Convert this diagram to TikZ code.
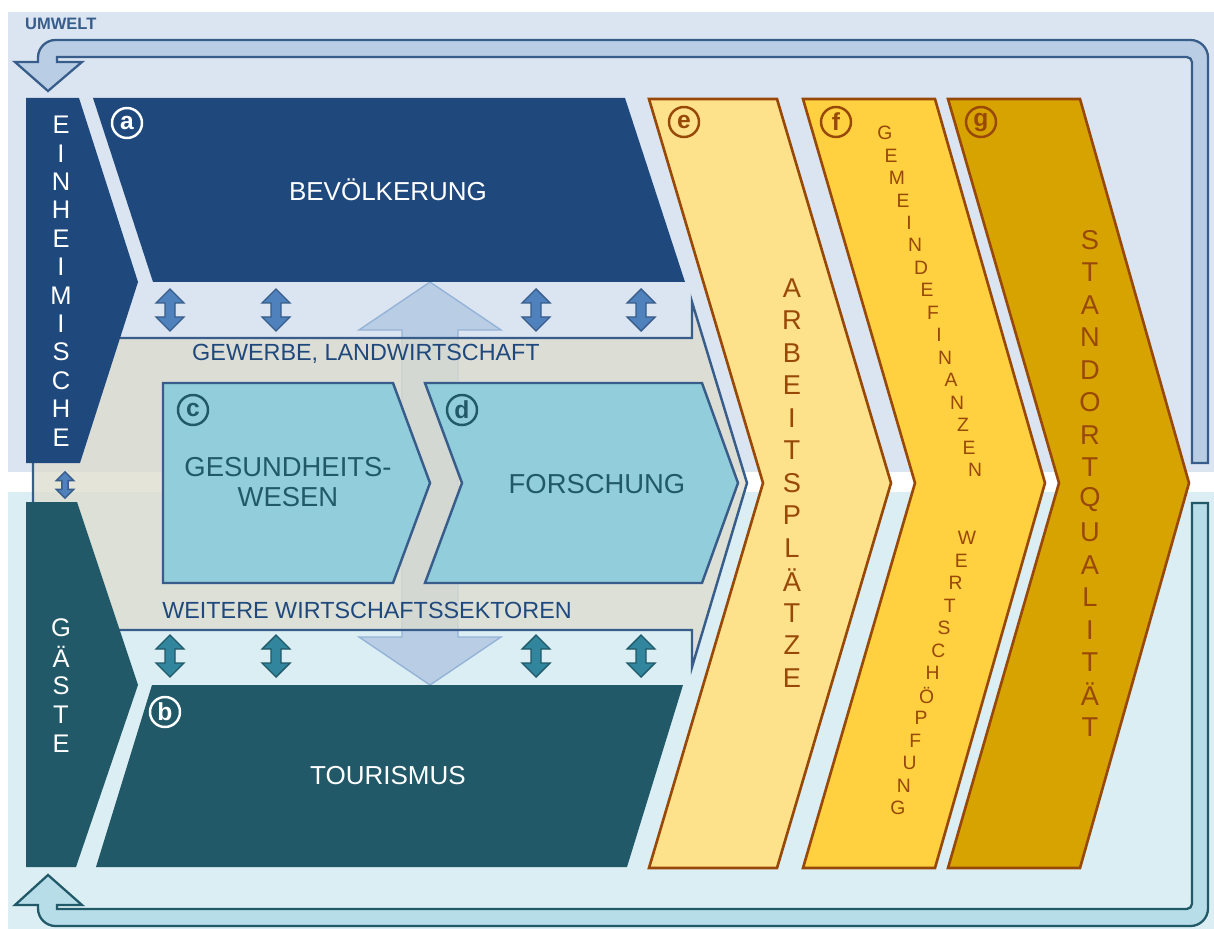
\documentclass[tikz,border=0pt]{standalone}
\usepackage{fontspec}
\setmainfont{Liberation Sans}
\definecolor{umweltbg}{HTML}{DBE5F1}
\definecolor{gastbg}{HTML}{DAEEF3}
\definecolor{navy}{HTML}{1F497D}
\definecolor{petrol}{HTML}{215968}
\definecolor{sand}{RGB}{221,220,205}
\definecolor{boxblue}{HTML}{92CDDC}
\definecolor{lineblue}{HTML}{385D8A}
\definecolor{arrblue}{HTML}{4F81BD}
\definecolor{arrteal}{HTML}{31859C}
\definecolor{paleblue}{HTML}{B9CDE5}
\definecolor{paleline}{HTML}{95B3D7}
\definecolor{palecyan}{HTML}{B7DDE8}
\definecolor{yelA}{HTML}{FEE18B}
\definecolor{yelB}{HTML}{FFD03F}
\definecolor{yelC}{HTML}{D7A300}
\definecolor{brown}{HTML}{984807}
\tikzset{
  outl/.style={draw=lineblue,line width=1.4pt},
  chev/.style={draw=brown,line width=1.5pt},
  updownblue/.style={fill=arrblue,draw=lineblue,line width=0.8pt},
  updownteal/.style={fill=arrteal,draw=petrol,line width=0.8pt},
  badge/.style={circle,draw=#1,text=#1,line width=1.4pt,inner sep=0pt,minimum size=0.6cm,font=\bfseries\fontsize{14}{14}\selectfont},
  bigtext/.style={font=\fontsize{14.8}{17}\selectfont},
  midtext/.style={font=\fontsize{13.3}{15}\selectfont},
  boxtext/.style={font=\fontsize{15.6}{17}\selectfont},
  colchar/.style={inner sep=0pt,text=white,font=\fontsize{14.5}{14.5}\selectfont},
  sidechar/.style={inner sep=0pt,text=brown,font=\fontsize{15.5}{15.5}\selectfont},
  smallchar/.style={inner sep=0pt,text=brown,font=\fontsize{11}{11}\selectfont},
}
\def\updown[#1](#2){\draw[shift={(#2)},#1] (0,-21) -- ++(14,14) -- ++(-9,0) -- ++(0,14) -- ++(9,0) -- ++(-14,14) -- ++(-14,-14) -- ++(9,0) -- ++(0,-14) -- ++(-9,0) -- cycle;}

\begin{document}
\begin{tikzpicture}[x=0.02cm,y=-0.02cm]
			%%%%% START %%%%%
			\def\ytop{98}
			\def\ybot{867}
			\def\ymid{483}
			\def\yhi{310}
			\def\ylo{656}
			
			\useasboundingbox (0,0) rectangle (1214,929);
			\fill[white] (0,0) rectangle (1214,929);
			\fill[umweltbg] (8,12) rectangle (1214,472);
			\fill[gastbg] (8,492) rectangle (1214,929);
			
			\draw[fill=paleblue,draw=lineblue,line width=1.3pt] (15,62) -- (48,91) -- (82,62) -- (57,62) -- (57,57) [rounded corners=3pt] -- (1192,57) [sharp corners] -- (1192,463) -- (1208,463) [rounded corners=10pt] -- (1208,40) -- (38,40) [sharp corners] -- (38,62) -- cycle;
			\draw[fill=palecyan,draw=petrol,line width=1.3pt] (15,905) -- (48,875) -- (82,905) -- (57,905) -- (57,909) [rounded corners=3pt] -- (1192,909) [sharp corners] -- (1192,503) -- (1208,503) [rounded corners=10pt] -- (1208,926) -- (38,926) [sharp corners] -- (38,905) -- cycle;
			\node[anchor=west,text=lineblue,font=\bfseries\fontsize{9.4}{10}\selectfont] (umwelt) at (19,24) {UMWELT};
			
			\draw[fill=paleblue,draw=paleline,line width=0.8pt] (430,282) -- (501,330) -- (458,330) -- (458,637) -- (501,637) -- (430,685) -- (359,637) -- (402,637) -- (402,330) -- (359,330) -- cycle;
			\draw[outl,fill=sand,fill opacity=0.75] (33,338) -- (692,338) -- (692,302) -- (747,\ymid) -- (692,667) -- (692,630) -- (33,630) -- cycle;
			
			\fill[navy] (26,\ytop) -- (79,\ytop) -- (138,282) -- (80,463) -- (26,463) -- cycle;
			\fill[petrol] (26,502) -- (77,502) -- (138,685) -- (76,\ybot) -- (26,\ybot) -- cycle;
			\fill[navy] (93,\ytop) -- (625,\ytop) -- (685,282) -- (153,282) -- cycle;
			\fill[petrol] (152,685) -- (683,685) -- (627,\ybot) -- (96,\ybot) -- cycle;
			
			\draw[outl,fill=boxblue] (163,383) -- (393,383) -- (430,\ymid) -- (393,583) -- (163,583) -- cycle;
			\draw[outl,fill=boxblue] (425,383) -- (702,383) -- (738,\ymid) -- (702,583) -- (425,583) -- (462,\ymid) -- cycle;
			
			\foreach \x in {170,276,536,641} {
				\updown[updownblue](\x,\yhi)
				\updown[updownteal](\x,\ylo)
			}
			\updown[updownblue,scale=0.62](65,485)
			
			\draw[chev,fill=yelA] (649,99) -- (777,99) -- (891,\ymid) -- (777,868) -- (649,868) -- (763,\ymid) -- cycle;
			\draw[chev,fill=yelB] (803,99) -- (935,99) -- (1045,\ymid) -- (935,868) -- (803,868) -- (915,\ymid) -- cycle;
			\draw[chev,fill=yelC] (948,99) -- (1080,99) -- (1189,\ymid) -- (1080,868) -- (948,868) -- (1059,\ymid) -- cycle;
			
			\node[bigtext,text=white] (bev) at (388,190) {BEVÖLKERUNG};
			\node[bigtext,text=white] (tour) at (388,776) {TOURISMUS};
			\node[midtext,text=navy] (gewerbe) at (366,354) {GEWERBE, LANDWIRTSCHAFT};
			\node[midtext,text=navy] (weitere) at (367,610) {WEITERE WIRTSCHAFTSSEKTOREN};
			\node[boxtext,text=petrol,align=center] (gesund) at (288,482) {GESUNDHEITS-\\WESEN};
			\node[boxtext,text=petrol] (forsch) at (597,484) {FORSCHUNG};
			
			\node[badge=white] (ta) at (127,123) {a};
			\node[badge=white] (tb) at (165,712) {b};
			\node[badge=petrol] (tc) at (193,410) {c};
			\node[badge=petrol] (td) at (462,410) {d};
			\node[badge=brown] (te) at (684,122) {e};
			\node[badge=brown] (tf) at (836,122) {f};
			\node[badge=brown] (tg) at (981,122) {g};
			
			\foreach \ch [count=\i] in {E,I,N,H,E,I,M,I,S,C,H,E}
				\node[colchar] (ein\i) at (61,{125+(\i-1)*28.4}) {\ch};
			\foreach \ch [count=\i] in {G,Ä,S,T,E}
				\node[colchar] (gast\i) at (61,{628+(\i-1)*29}) {\ch};
			\foreach \ch [count=\i] in {A,R,B,E,I,T,S,P,L,Ä,T,Z,E}
				\node[sidechar] (arb\i) at (792,{288+(\i-1)*32.5}) {\ch};
			\foreach \ch [count=\i] in {S,T,A,N,D,O,R,T,Q,U,A,L,I,T,Ä,T}
				\node[sidechar] (stand\i) at (1090,{240+(\i-1)*32.47}) {\ch};
			\foreach \ch [count=\i] in {G,E,M,E,I,N,D,E,F,I,N,A,N,Z,E,N}
				\node[smallchar] (gem\i) at ({885+(\i-1)*6},{133+(\i-1)*22.47}) {\ch};
			\foreach \ch [count=\i] in {W,E,R,T,S,C,H,Ö,P,F,U,N,G}
				\node[smallchar] (wert\i) at ({967-(\i-1)*5.75},{538+(\i-1)*22.5}) {\ch};
			%%%%% END %%%%%
\end{tikzpicture}
\end{document}
